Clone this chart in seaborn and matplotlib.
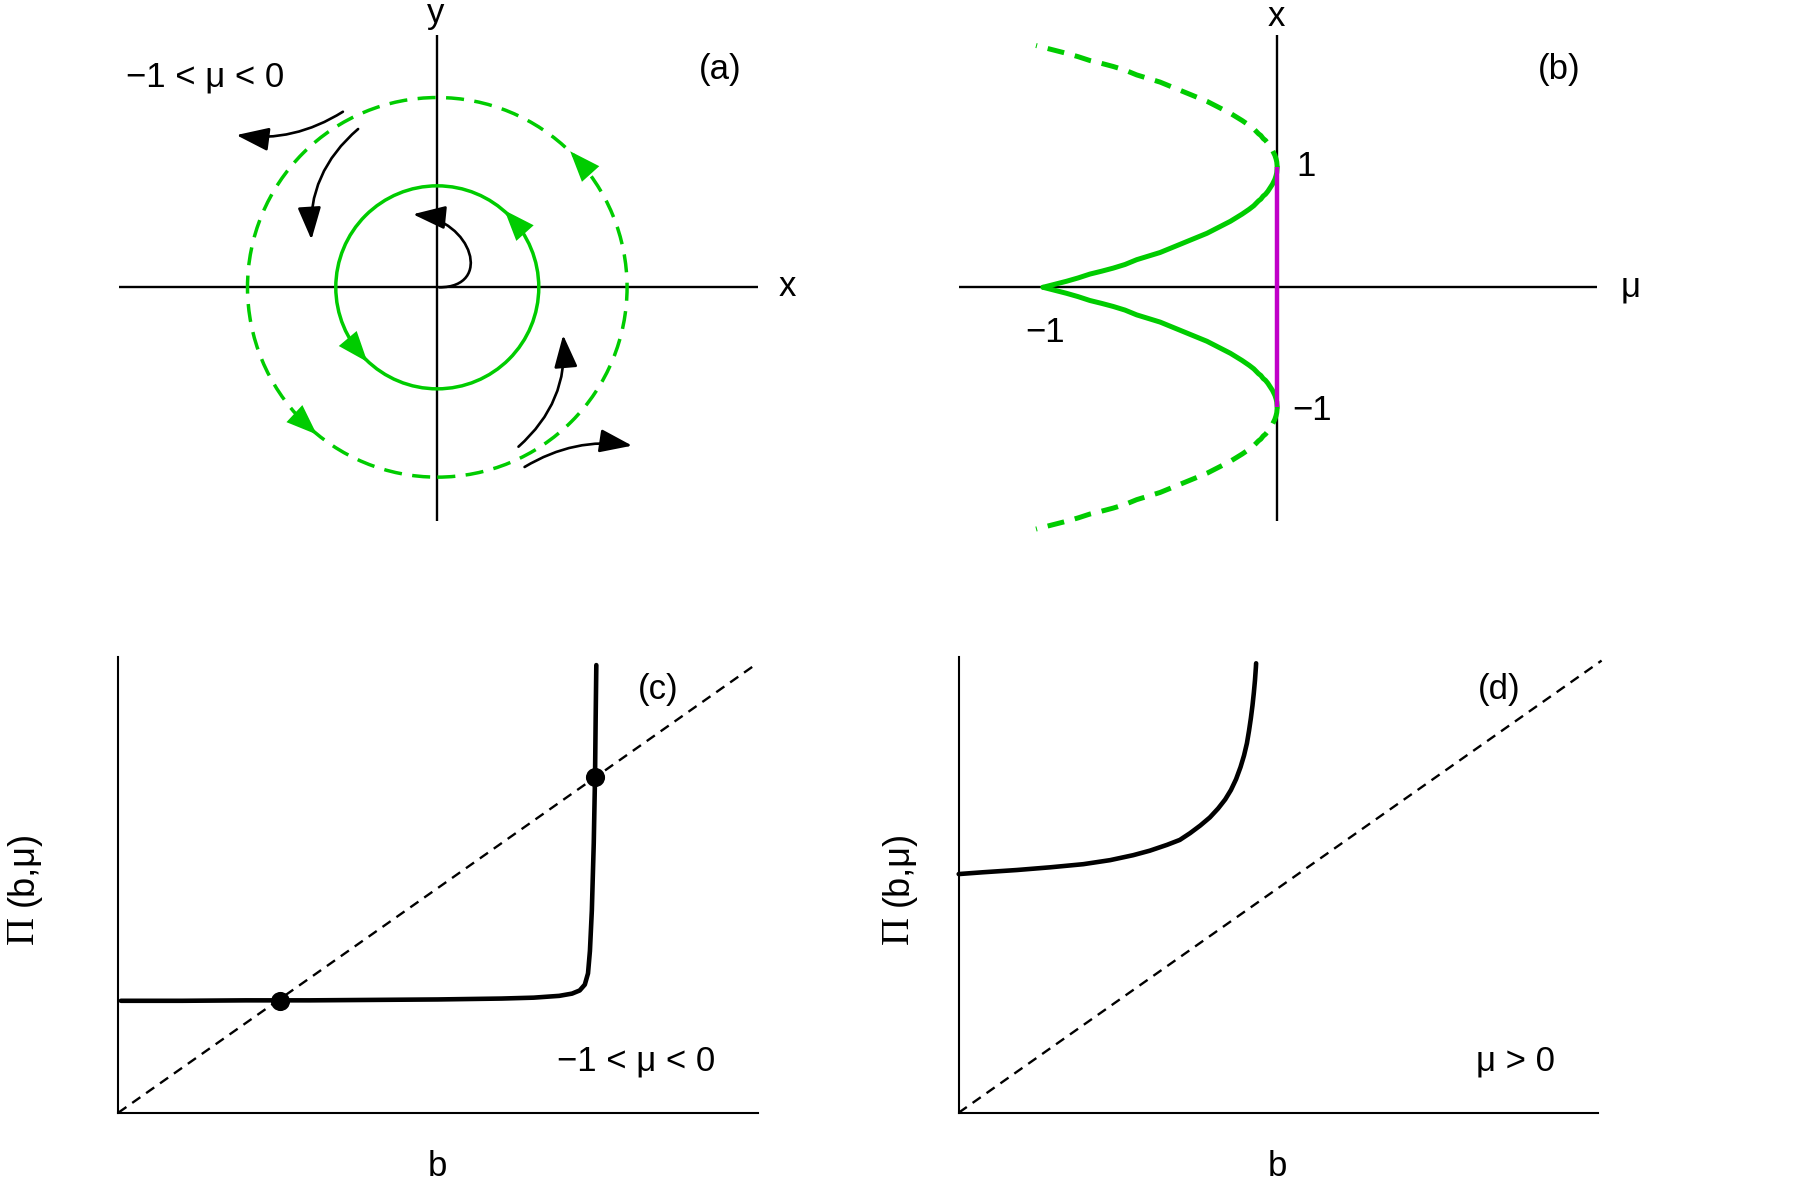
import numpy as np
import matplotlib
matplotlib.use("Agg")
import matplotlib.pyplot as plt
import seaborn as sns
from matplotlib.patches import Circle, FancyArrowPatch
from matplotlib.path import Path

sns.set_theme(style="white")
plt.rcParams['font.family'] = ['Liberation Sans', 'DejaVu Sans']

W, H = 1809, 1179
GREEN = '#00cc00'
MAGENTA = '#c000c8'
FS = 25

# ---------------- data ----------------
# (a) phase plane: limit-cycle radii (inner stable, outer unstable)
r_stable_a = 1.0
r_unstable_a = 1.87
head_angles_inner = [42, 220]     # degrees, green arrowheads (counter-clockwise)
head_angles_outer = [42, 227]
# black flow arrows: start, end, curvature
flow_starts = [(-0.93, 1.73), (-0.78, 1.56), (0.80, -1.57), (0.86, -1.77)]
flow_ends = [(-1.98, 1.50), (-1.24, 0.47), (1.24, -0.47), (1.92, -1.56)]
flow_rads = [-0.18, 0.25, 0.25, -0.18]

# (b) bifurcation diagram
mu_stable = [-1.0, -0.95, -0.9, -0.85, -0.8, -0.75, -0.7, -0.65, -0.6, -0.55, -0.5, -0.45,
             -0.4, -0.35, -0.3, -0.25, -0.2, -0.15, -0.12, -0.1, -0.08, -0.07, -0.06, -0.05,
             -0.04, -0.03, -0.02, -0.01, -0.005, -0.002, 0.0]
x_stable = [0.0, 0.025, 0.05, 0.078, 0.11, 0.134, 0.16, 0.19, 0.23, 0.26, 0.29, 0.33,
            0.37, 0.41, 0.45, 0.50, 0.55, 0.61, 0.65, 0.68, 0.72, 0.735, 0.76, 0.776,
            0.80, 0.83, 0.86, 0.90, 0.93, 0.955, 1.0]
mu_unstable = [0.0, -0.002, -0.005, -0.01, -0.02, -0.03, -0.04, -0.05, -0.06, -0.07, -0.08,
               -0.1, -0.12, -0.15, -0.2, -0.25, -0.3, -0.35, -0.4, -0.45, -0.5, -0.55, -0.6,
               -0.65, -0.7, -0.75, -0.8, -0.85, -0.9, -0.95, -1.03]
x_unstable = [1.0, 1.045, 1.07, 1.10, 1.14, 1.17, 1.20, 1.224, 1.24, 1.265, 1.28,
              1.32, 1.35, 1.39, 1.45, 1.50, 1.55, 1.59, 1.63, 1.67, 1.71, 1.74, 1.77,
              1.81, 1.84, 1.866, 1.89, 1.922, 1.95, 1.975, 2.015]
origin_cycle_range = [-1.0, 1.0]

# (c) return map, -1 < mu < 0
b_c = [0.004, 0.1, 0.2, 0.3, 0.4, 0.5, 0.6, 0.65, 0.69, 0.71, 0.722, 0.730, 0.735, 0.738,
       0.741, 0.744, 0.746, 0.747, 0.748]
pi_c = [0.249, 0.249, 0.250, 0.250, 0.251, 0.252, 0.254, 0.256, 0.260, 0.265, 0.272, 0.285,
        0.310, 0.360, 0.450, 0.600, 0.750, 0.880, 0.996]
fixed_b_c = [0.253, 0.7465]
fixed_pi_c = [0.249, 0.748]

# (d) return map, mu > 0
b_d = [0.0, 0.038, 0.091, 0.143, 0.195, 0.237, 0.273, 0.299, 0.326, 0.346, 0.362, 0.378,
       0.393, 0.406, 0.417, 0.426, 0.434, 0.441, 0.4465, 0.451, 0.4543, 0.4572, 0.4597,
       0.4618, 0.4636, 0.4650, 0.4654]
pi_d = [0.531, 0.535, 0.540, 0.546, 0.553, 0.562, 0.573, 0.583, 0.596, 0.607, 0.622, 0.639,
        0.657, 0.677, 0.697, 0.718, 0.742, 0.769, 0.795, 0.822, 0.850, 0.878, 0.906,
        0.934, 0.962, 0.990, 1.000]

diag_c = [0.0, 1.0]
diag_d = [0.0, 1.006]

# ---------------- figure ----------------
fig = plt.figure(figsize=(W / 100, H / 100), dpi=100)
fig.patch.set_facecolor('white')


def px_axes(x0, y0, x1, y1):
    return fig.add_axes([x0 / W, 1 - y1 / H, (x1 - x0) / W, (y1 - y0) / H])


def ftext(x, y, s, **kw):
    kw.setdefault('ha', 'center')
    kw.setdefault('va', 'center')
    kw.setdefault('fontsize', FS)
    fig.text(x / W, 1 - y / H, s, color='black', **kw)


# ----- (a) -----
axA = px_axes(118.8, 34.6, 758.0, 521.5)
axA.set_xlim(-3.138, 3.160)
axA.set_ylim(-2.307, 2.490)
axA.axis('off')
axA.plot([-3.138, 3.160], [0, 0], color='black', lw=1.7, solid_capstyle='butt')
axA.plot([0, 0], [-2.307, 2.490], color='black', lw=1.7, solid_capstyle='butt')
axA.add_patch(Circle((0, 0), r_stable_a, fill=False, ec=GREEN, lw=2.5, zorder=3))
axA.add_patch(Circle((0, 0), r_unstable_a, fill=False, ec=GREEN, lw=2.5,
                     ls=(0, (5.2, 3.0)), zorder=3))

for r, angs in ((r_stable_a, head_angles_inner), (r_unstable_a, head_angles_outer)):
    for a in angs:
        t = np.deg2rad(a)
        p = np.array([r * np.cos(t), r * np.sin(t)])
        tg = np.array([-np.sin(t), np.cos(t)])
        arr = FancyArrowPatch(tuple(p - 0.2 * tg), tuple(p + 0.12 * tg),
                              arrowstyle='-|>,head_length=1.1,head_width=0.42',
                              mutation_scale=20, color=GREEN, lw=0,
                              shrinkA=0, shrinkB=0, zorder=4)
        axA.add_patch(arr)

for s, e, rad in zip(flow_starts, flow_ends, flow_rads):
    arr = FancyArrowPatch(s, e, connectionstyle=f'arc3,rad={rad}',
                          arrowstyle='-|>,head_length=1.0,head_width=0.36',
                          mutation_scale=20, color='black', lw=1.9,
                          shrinkA=0, shrinkB=0, zorder=5)
    axA.add_patch(arr)

inner_path = Path([(0.02, 0.0), (0.55, 0.0), (0.35, 0.66), (-0.24, 0.72)],
                  [Path.MOVETO, Path.CURVE4, Path.CURVE4, Path.CURVE4])
axA.add_patch(FancyArrowPatch(path=inner_path,
                              arrowstyle='-|>,head_length=1.0,head_width=0.36',
                              mutation_scale=20, color='black', lw=1.9, zorder=5))

ftext(436, 14, 'y')
ftext(787, 287, 'x')
ftext(720, 69, '(a)')
ftext(205, 77, '\u22121 < \u03bc < 0')

# ----- (b) -----
axB = px_axes(958.7, 34.6, 1596.7, 521.5)
axB.set_xlim(-1.360, 1.364)
axB.set_ylim(-1.952, 2.106)
axB.axis('off')
axB.plot([-1.360, 1.364], [0, 0], color='black', lw=1.7, solid_capstyle='butt')
axB.plot([0, 0], [-1.952, 2.106], color='black', lw=1.7, solid_capstyle='butt')
for sign in (1, -1):
    sns.lineplot(x=mu_stable, y=[sign * v for v in x_stable], sort=False, estimator=None,
                 color=GREEN, lw=3.6, ax=axB, legend=False)
    sns.lineplot(x=mu_unstable, y=[sign * v for v in x_unstable], sort=False, estimator=None,
                 color=GREEN, lw=3.6, linestyle=(0, (3.4, 2.2)), ax=axB, legend=False)
for ln in axB.lines:
    ln.set_clip_on(False)
axB.plot([0, 0], origin_cycle_range, color=MAGENTA, lw=3.2, zorder=4,
         solid_capstyle='butt')
axB.axis('off')

ftext(1276, 17, 'x')
ftext(1631, 287, '\u03bc')
ftext(1559, 69, '(b)')
ftext(1306, 166, '1')
ftext(1312, 411, '\u22121')
ftext(1045, 332, '\u22121')


# ----- (c) and (d) -----
def map_axes(x0):
    ax = px_axes(x0, 657, x0 + 639.7, 1112.7)
    ax.set_xlim(0, 1.001)
    ax.set_ylim(0, 1.014)
    ax.set_facecolor('white')
    for side in ('top', 'right'):
        ax.spines[side].set_visible(False)
    for side in ('left', 'bottom'):
        ax.spines[side].set_visible(True)
        ax.spines[side].set_color('black')
        ax.spines[side].set_linewidth(1.5)
    ax.set_xticks([])
    ax.set_yticks([])
    return ax


axC = map_axes(118.3)
sns.lineplot(x=diag_c, y=diag_c, color='black', lw=1.7, linestyle=(0, (4.2, 3.0)),
             sort=False, estimator=None, ax=axC, legend=False)
sns.lineplot(x=b_c, y=pi_c, color='black', lw=3.3, sort=False, estimator=None,
             ax=axC, legend=False)
sns.scatterplot(x=fixed_b_c, y=fixed_pi_c, color='black', s=190, linewidth=0,
                ax=axC, legend=False, zorder=5)
for ln in axC.lines:
    ln.set_clip_on(False)
axC.set_xlabel('')
axC.set_ylabel('')

axD = map_axes(958.7)
sns.lineplot(x=diag_d, y=diag_d, color='black', lw=1.7, linestyle=(0, (4.2, 3.0)),
             sort=False, estimator=None, ax=axD, legend=False)
sns.lineplot(x=b_d, y=pi_d, color='black', lw=3.3, sort=False, estimator=None,
             ax=axD, legend=False)
for ln in axD.lines:
    ln.set_clip_on(False)
axD.set_xlabel('')
axD.set_ylabel('')

ftext(658, 689, '(c)')
ftext(636, 1061, '\u22121 < \u03bc < 0')
ftext(437, 1166, 'b')

ftext(1499, 689, '(d)')
ftext(1515, 1061, '\u03bc > 0')
ftext(1277, 1166, 'b')

for xl in (23, 898):
    ftext(xl, 930, '\u03a0', rotation=90, fontsize=28, family=['Liberation Serif', 'DejaVu Serif'])
    ftext(xl, 868, '(b,\u03bc)', rotation=90, fontsize=26)

fig.savefig('out.png', dpi=100, facecolor='white')
